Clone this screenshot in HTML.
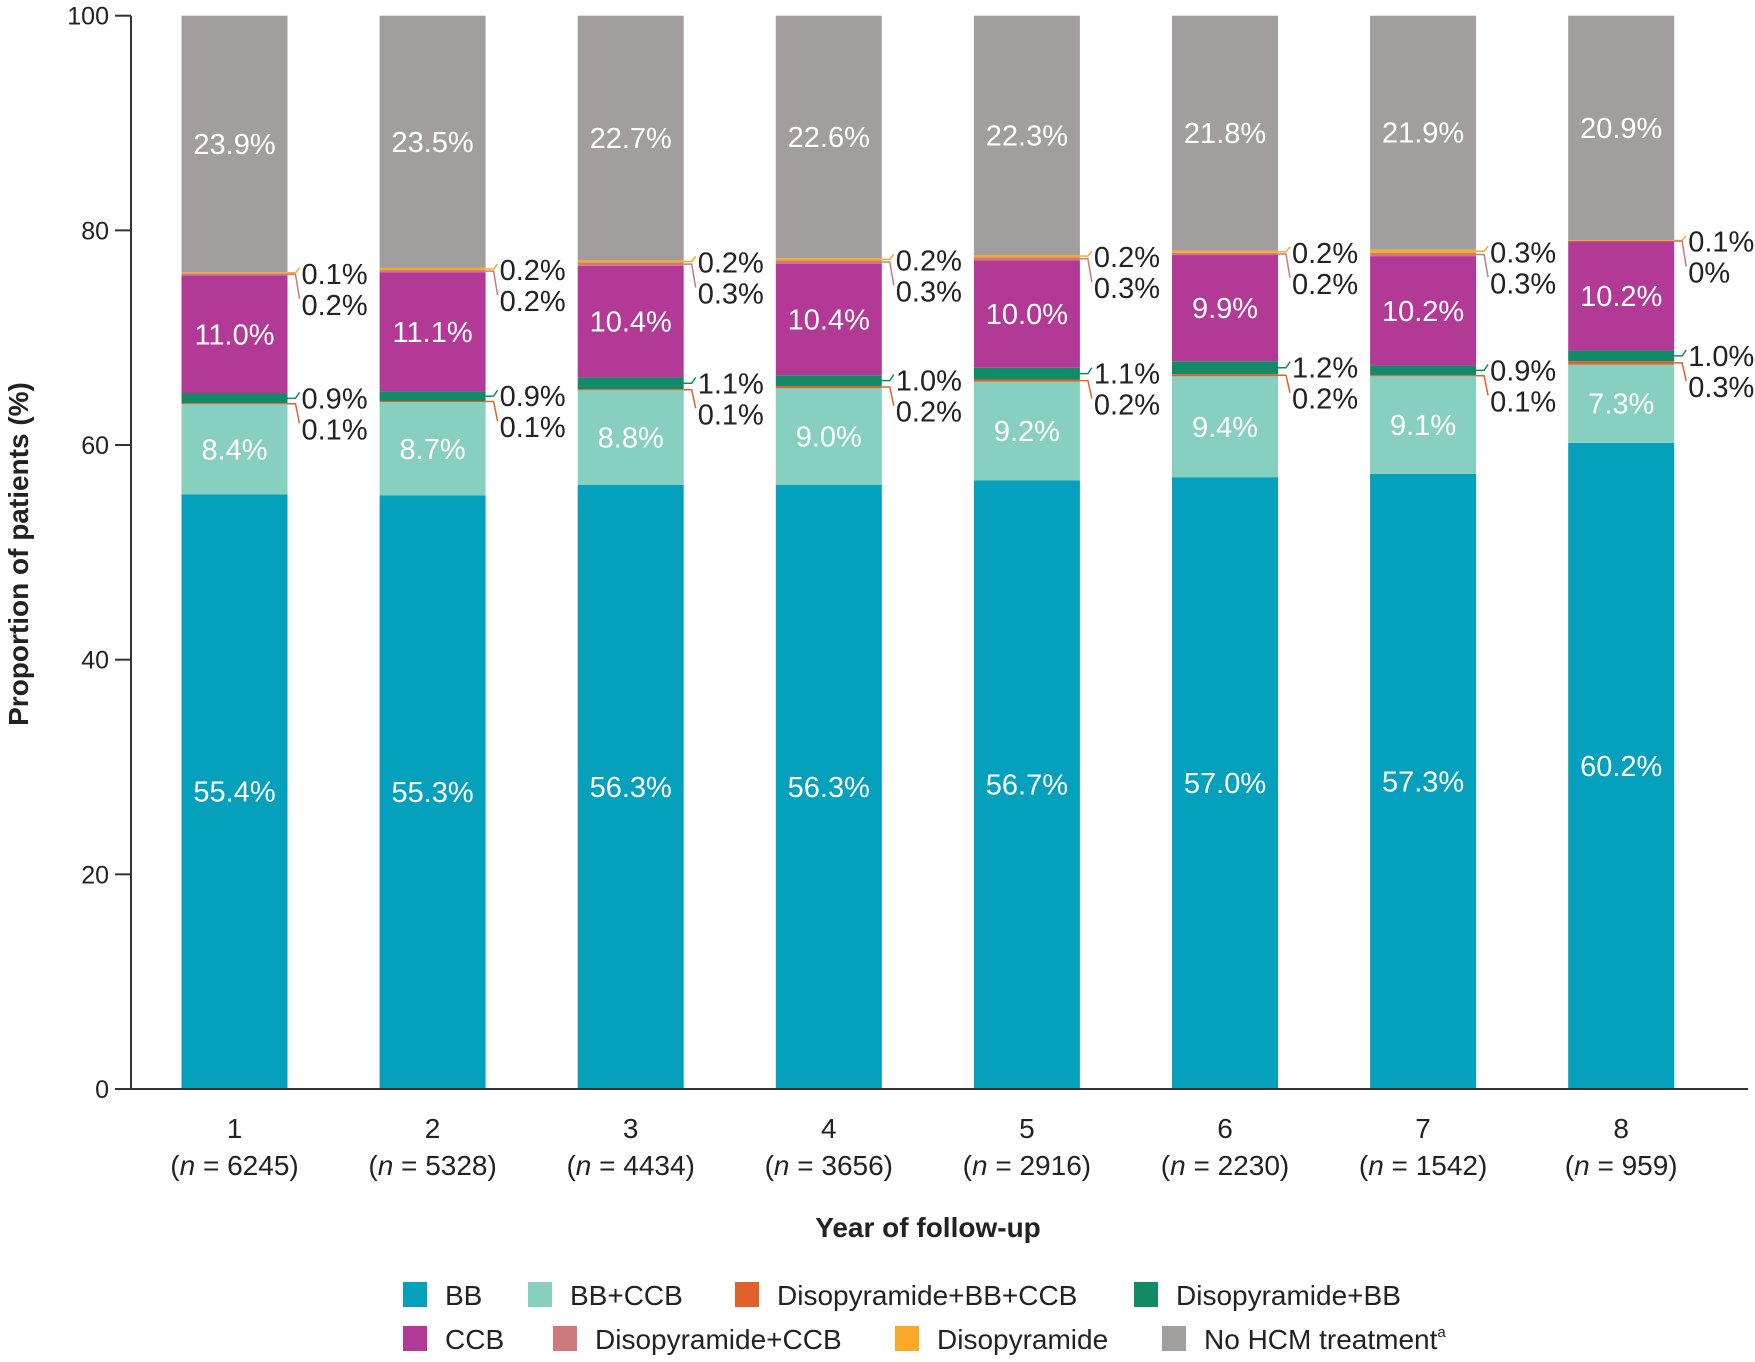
<!DOCTYPE html>
<html><head><meta charset="utf-8"><style>
html,body{margin:0;padding:0;background:#fff}
svg{display:block;font-family:"Liberation Sans",sans-serif}
</style></head><body>
<svg id="chart" width="1755" height="1362" viewBox="0 0 1755 1362"></svg>
<script>
const years=["1","2","3","4","5","6","7","8"];
const nLabels=["6245","5328","4434","3656","2916","2230","1542","959"];
const seriesNames=["BB","BB+CCB","Disopyramide+BB+CCB","Disopyramide+BB","CCB","Disopyramide+CCB","Disopyramide","No HCM treatment"];
const bb=[55.4,55.3,56.3,56.3,56.7,57.0,57.3,60.2];
const bbccb=[8.4,8.7,8.8,9.0,9.2,9.4,9.1,7.3];
const dbbccb=[0.1,0.1,0.1,0.2,0.2,0.2,0.1,0.3];
const dbb=[0.9,0.9,1.1,1.0,1.1,1.2,0.9,1.0];
const ccb=[11.0,11.1,10.4,10.4,10.0,9.9,10.2,10.2];
const dccb=[0.2,0.2,0.3,0.3,0.3,0.2,0.3,0];
const diso=[0.1,0.2,0.2,0.2,0.2,0.2,0.3,0.1];
const none=[23.9,23.5,22.7,22.6,22.3,21.8,21.9,20.9];
const yTicks=[0,20,40,60,80,100];
const colors=["#05a0bb","#87cfbf","#e0622a","#128a68","#b23a96","#cf7a7a","#f9a828","#a39e9e"];
const series=[bb,bbccb,dbbccb,dbb,ccb,dccb,diso,none];
const NS="http://www.w3.org/2000/svg";
const svg=document.getElementById('chart');
const X0=131,Y0=1089,Y100=15.7,X1=1748,C0=234.5,STEP=198.1,BW=106;
const y=v=>Y0-(Y0-Y100)*v/100;
const xc=i=>C0+STEP*i;
function el(tag,attrs,parent){const e=document.createElementNS(NS,tag);for(const k in attrs)e.setAttribute(k,attrs[k]);(parent||svg).appendChild(e);return e;}
function fmt(v){return v===0?"0%":v.toFixed(1)+"%";}
years.forEach((yr,i)=>{
  const g=el('g',{});
  
  
  let cum=0;
  series.forEach((s,k)=>{
    const v=s[i];
    const top=(k===7)?100:cum+v;
    const r=el('rect',{x:xc(i)-BW/2,y:y(top),width:BW,height:Math.max(0,y(cum)-y(top)),fill:colors[k]},g);
    
    
    if(k===0||k===1||k===4||k===7){
      const t=el('text',{x:xc(i),y:(y(cum)+y(top))/2+10,fill:'#fff','font-size':29,'text-anchor':'middle'},g);
      t.textContent=fmt(v);
      
      
    }
    cum+=v;
  });
  const right=xc(i)+BW/2;
  const cLow=bb[i]+bbccb[i]+dbbccb[i];
  const yDbb=y(cLow+dbb[i]/2), yD3=y(bb[i]+bbccb[i]+dbbccb[i]/2);
  const cHigh=cLow+dbb[i]+ccb[i];
  const yDc=y(cHigh+dccb[i]/2), yDi=y(cHigh+dccb[i]+diso[i]/2);
  const lx=right+14;
  const items=[[dbb[i],yDbb,yDbb,colors[3]],[dbbccb[i],yD3,yDbb+31,colors[2]],[diso[i],yDi,yDi+1,colors[6]],[dccb[i],yDc,yDi+32,colors[5]]];
  items.forEach(([v,ys,yl,c])=>{
    const ln=el('polyline',{points:`${right},${ys} ${right+8},${ys} ${lx-2},${yl-6}`,fill:'none',stroke:c,'stroke-width':1.5},g);
    
    
    const t=el('text',{x:lx,y:yl+10,fill:'#222','font-size':29},g);
    t.textContent=fmt(v);
    
    
  });
  const t1=el('text',{x:xc(i),y:1138,'font-size':28,'text-anchor':'middle',fill:'#222'});
  t1.textContent=yr;
  
  
  const t2=el('text',{x:xc(i),y:1175,'font-size':28,'text-anchor':'middle',fill:'#222'});
  t2.innerHTML='(<tspan font-style="italic">n</tspan> = '+nLabels[i]+')';
  
  
});
const ya=el('line',{x1:X0,y1:Y100,x2:X0,y2:Y0,stroke:'#333','stroke-width':2});


const xa=el('line',{x1:X0-16,y1:Y0,x2:X1,y2:Y0,stroke:'#333','stroke-width':2});


yTicks.forEach(v=>{
  const tk=el('line',{x1:X0-16,y1:y(v),x2:X0,y2:y(v),stroke:'#333','stroke-width':2});
  
  
  const t=el('text',{x:X0-22,y:y(v)+9,'font-size':25,'text-anchor':'end',fill:'#222'});
  t.textContent=v;
  
  
});
const yt=el('text',{x:0,y:0,'font-size':28,'font-weight':'bold','text-anchor':'middle',fill:'#222',transform:'translate(28,554) rotate(-90)'});
yt.textContent='Proportion of patients (%)';


const xt=el('text',{x:928,y:1237,'font-size':28,'font-weight':'bold','text-anchor':'middle',fill:'#222'});
xt.textContent='Year of follow-up';


const legPos=[[403,1295],[528,1295],[735,1295],[1134,1295],[403,1339],[553,1339],[895,1339],[1162,1339]];
seriesNames.forEach((nm,k)=>{
  const g=el('g',{});
  
  
  const [lx,ly]=legPos[k];
  el('rect',{x:lx,y:ly-13,width:24,height:25,fill:colors[k]},g);
  const t=el('text',{x:lx+42,y:ly+10,'font-size':28,fill:'#222'},g);
  t.innerHTML=k===7?'No HCM treatment<tspan font-size="15" dy="-12">a</tspan>':nm;
});
</script>
</body></html>
